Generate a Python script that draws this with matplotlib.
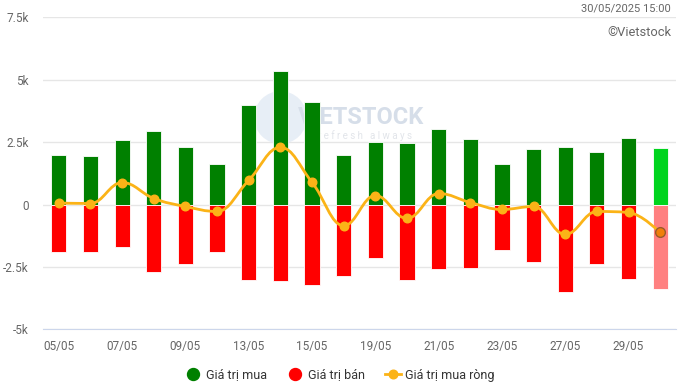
import numpy as np
import matplotlib
matplotlib.use("Agg")
from matplotlib import pyplot as plt
from matplotlib.path import Path
from matplotlib.patches import PathPatch
from matplotlib.lines import Line2D

plt.rcParams['font.family'] = ['Roboto', 'DejaVu Sans']

# trading days shown on the chart
DATES = ["05/05", "06/05", "07/05", "08/05", "09/05", "12/05", "13/05",
         "14/05", "15/05", "16/05", "19/05", "20/05", "21/05", "22/05",
         "23/05", "26/05", "27/05", "28/05", "29/05", "30/05"]
BUY = [1970, 1930, 2570, 2930, 2290, 1610, 3980, 5340, 4100, 2000,
       2490, 2450, 3010, 2610, 1610, 2210, 2290, 2090, 2650, 2250]
SELL = [-1910, -1890, -1690, -2690, -2370, -1890, -3010, -3050, -3210, -2850,
        -2130, -3010, -2570, -2530, -1810, -2290, -3490, -2370, -2970, -3370]
NET = [60, 40, 880, 240, -80, -280, 970, 2290, 890, -850,
       360, -560, 440, 80, -200, -80, -1200, -280, -320, -1120]
YTICKS = [-5000, -2500, 0, 2500, 5000, 7500]
YLABELS = ["-5k", "-2.5k", "0", "2.5k", "5k", "7.5k"]

GREEN, RED, LINE = "#008000", "#ff0000", "#fbb317"
GREEN_LAST, RED_LAST = "#00d41e", "#ff8080"
TXT = "#666666"


def spline_path(xs, ys, smoothing=1.5):
    # highcharts style spline: bezier control points around each point
    n = len(xs)
    denom = smoothing + 1
    lc, rc = [None] * n, [None] * n
    for i in range(n):
        x, y = xs[i], ys[i]
        if i == 0 or i == n - 1:
            lc[i] = rc[i] = (x, y)
            continue
        lx, ly = xs[i - 1], ys[i - 1]
        nx, ny = xs[i + 1], ys[i + 1]
        lcx = (smoothing * x + lx) / denom
        lcy = (smoothing * y + ly) / denom
        rcx = (smoothing * x + nx) / denom
        rcy = (smoothing * y + ny) / denom
        corr = ((rcy - lcy) * (rcx - x)) / (rcx - lcx) + y - rcy
        lcy += corr
        rcy += corr
        if lcy > ly and lcy > y:
            lcy = max(ly, y)
            rcy = 2 * y - lcy
        elif lcy < ly and lcy < y:
            lcy = min(ly, y)
            rcy = 2 * y - lcy
        if rcy > ny and rcy > y:
            rcy = max(ny, y)
            lcy = 2 * y - rcy
        elif rcy < ny and rcy < y:
            rcy = min(ny, y)
            lcy = 2 * y - rcy
        lc[i] = (lcx, lcy)
        rc[i] = (rcx, rcy)
    verts = [(xs[0], ys[0])]
    codes = [Path.MOVETO]
    for i in range(1, n):
        verts += [rc[i - 1], lc[i], (xs[i], ys[i])]
        codes += [Path.CURVE4] * 3
    return Path(verts, codes)


fig = plt.figure(figsize=(6.8, 3.88), dpi=100)
ax = fig.add_axes([43 / 680, (388 - 329.3) / 388, 633 / 680, (329.3 - 17.3) / 388])

x = np.arange(len(DATES))
gc = [GREEN] * (len(x) - 1) + [GREEN_LAST]
rcl = [RED] * (len(x) - 1) + [RED_LAST]
ax.bar(x, BUY, width=0.48, color=gc, edgecolor="white", linewidth=0.6, zorder=2)
ax.bar(x, SELL, width=0.48, color=rcl, edgecolor="white", linewidth=0.6, zorder=2)

path = spline_path(list(x.astype(float)), [float(v) for v in NET])
ax.add_patch(PathPatch(path, facecolor="none", edgecolor=LINE, lw=2, zorder=3))
ax.plot(x[:-1], NET[:-1], "o", color=LINE, ms=6.2, mec=LINE, zorder=4)
ax.plot(x[-1], NET[-1], "o", color="#f07f0a", ms=7, mec="#9a5a2a", mew=1, zorder=4)

ax.set_xlim(-0.5, len(x) - 0.5)
ax.set_ylim(-5000, 7500)
ax.set_yticks(YTICKS)
ax.set_yticklabels(YLABELS)
ax.set_xticks(x[::2])
ax.set_xticklabels(DATES[::2])
ax.grid(axis="y", color="#e6e6e6", lw=1, zorder=0)
ax.set_axisbelow(True)
for s in ["top", "right", "left"]:
    ax.spines[s].set_visible(False)
ax.spines["bottom"].set_color("#ccd6eb")
ax.tick_params(axis="both", length=0, labelsize=8.5, colors=TXT)
ax.tick_params(axis="x", pad=8)
ax.tick_params(axis="y", pad=10.5)

# faint watermark logo behind the bars
ax.plot([6.99], [3490], "o", ms=38, color="#e2eaf4", mec="none", alpha=0.8, zorder=1)
ax.text(7.55, 3210, "VIETSTOCK", color="#d6dee9", fontsize=17, fontweight="bold",
        va="baseline", ha="left", zorder=1)
ax.text(8.2, 3000, "r e f r e s h   a l w a y s", color="#e2e5ea", fontsize=7,
        va="top", ha="left", zorder=1)

fig.text(671 / 680, 1 - 9 / 388, "30/05/2025 15:00", color=TXT, fontsize=8,
         ha="right", va="center")
fig.text(671 / 680, 1 - 33 / 388, "\u00a9Vietstock", color=TXT, fontsize=9.3,
         ha="right", va="center")

handles = [Line2D([], [], ls="none", marker="o", color=GREEN, ms=8.6),
           Line2D([], [], ls="none", marker="o", color=RED, ms=8.6),
           Line2D([], [], color=LINE, lw=2, marker="o", ms=6.2)]
fig.legend(handles, ["Giá trị mua", "Giá trị bán", "Giá trị mua ròng"],
           loc="center", bbox_to_anchor=(0.5, 1 - 375 / 388), ncol=3,
           frameon=False, fontsize=9, labelcolor="#333333", handlelength=1.3,
           handletextpad=0.35, columnspacing=1.6)

fig.savefig("out.png", dpi=100)
